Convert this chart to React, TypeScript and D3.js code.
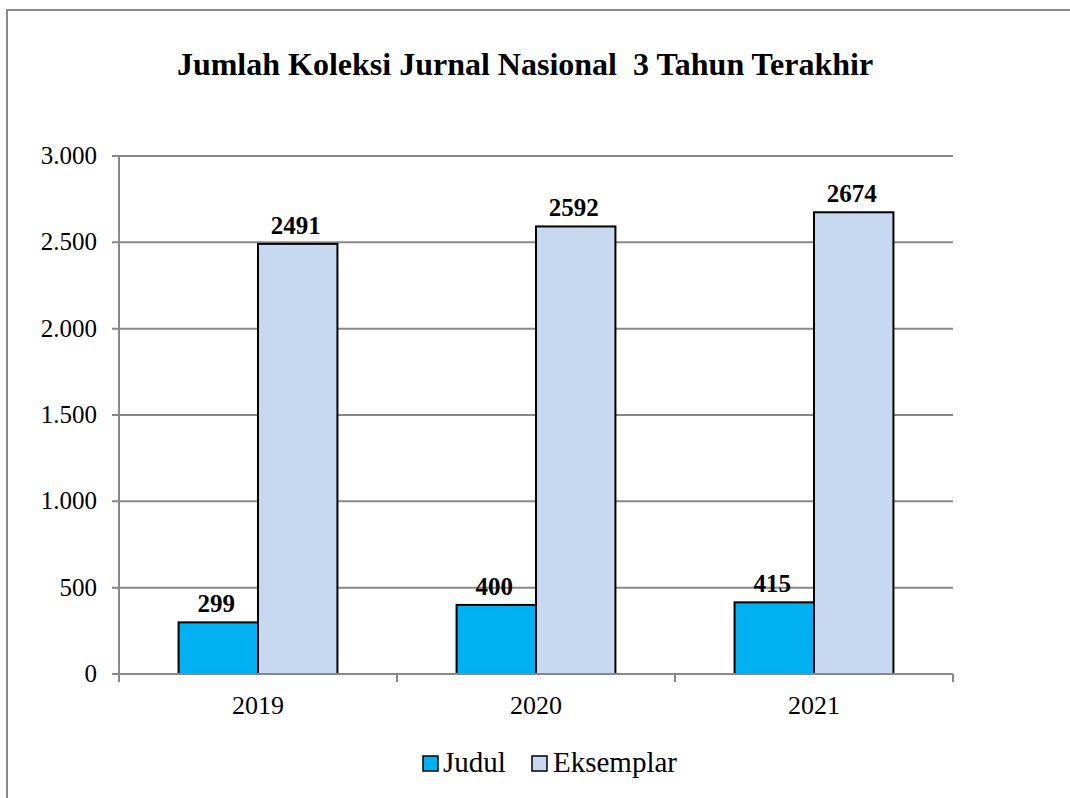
import React from "react";
import * as d3 from "d3";

const categories = ["2019", "2020", "2021"];
const seriesNames = ["Judul", "Eksemplar"];
const judul = [299, 400, 415];
const eksemplar = [2491, 2592, 2674];
const yTicks = [0, 500, 1000, 1500, 2000, 2500, 3000];
const title = "Jumlah Koleksi Jurnal Nasional  3 Tahun Terakhir";
const colors = ["#00B0F0", "#C6D9F1"];

export default function App() {
  const W = 1070, H = 798;
  const left = 119, right = 953, top = 156, bottom = 674;
  const x0 = d3.scaleBand().domain(categories).range([left, right]).paddingInner(0).paddingOuter(0);
  const x1 = d3.scaleBand().domain(seriesNames).range([0, x0.bandwidth()]).paddingInner(0).paddingOuter(0.75);
  const y = d3.scaleLinear().domain([0, 3000]).range([bottom, top]);
  const fmt = (v: number) => d3.format(",")(v).replace(/,/g, ".");
  const series = [judul, eksemplar];
  const font = "Liberation Serif, Times New Roman, serif";
  const grid = "#888888";

  return (
    <svg width={W} height={H} style={{ position: "absolute", left: 0, top: 0, background: "#fff", fontFamily: font }}>
      <rect x={7} y={10} width={1100} height={900} fill="#fff" stroke="#8a8a8a" strokeWidth={2} />
      <text x={525} y={75} textAnchor="middle" fontSize={32} fontWeight="bold" style={{ whiteSpace: "pre" }}>{title}</text>
      {yTicks.map((t) => (
        <g key={t}>
          <line x1={left - 7} x2={right} y1={y(t)} y2={y(t)} stroke={grid} strokeWidth={2} />
          <text x={left - 22} y={y(t) + 8} textAnchor="end" fontSize={25}>{fmt(t)}</text>
        </g>
      ))}
      <line x1={left} x2={left} y1={top} y2={bottom + 8} stroke={grid} strokeWidth={2} />
      {[...categories.map((c) => x0(c)!), right].map((xv, i) => (
        <line key={i} x1={xv} x2={xv} y1={bottom} y2={bottom + 8} stroke={grid} strokeWidth={2} />
      ))}
      {categories.map((c, ci) => (
        <g key={c}>
          {seriesNames.map((s, si) => {
            const v = series[si][ci];
            const bx = x0(c)! + x1(s)!;
            return (
              <g key={s}>
                <rect x={bx} y={y(v)} width={x1.bandwidth()} height={bottom - y(v)} fill={colors[si]} stroke="#000" strokeWidth={2} />
                <text x={bx + x1.bandwidth() / 2 - 2} y={y(v) - 10} textAnchor="middle" fontSize={25} fontWeight="bold">{v}</text>
              </g>
            );
          })}
          <text x={x0(c)! + x0.bandwidth() / 2} y={714} textAnchor="middle" fontSize={26}>{c}</text>
        </g>
      ))}
      <line x1={left} x2={right} y1={bottom} y2={bottom} stroke={grid} strokeWidth={2} />
      <g>
        <rect x={423} y={756} width={15} height={15} fill={colors[0]} stroke="#000" strokeWidth={1.5} />
        <text x={443} y={772} fontSize={29}>{seriesNames[0]}</text>
        <rect x={532} y={756} width={15} height={15} fill={colors[1]} stroke="#000" strokeWidth={1.5} />
        <text x={553} y={772} fontSize={29}>{seriesNames[1]}</text>
      </g>
    </svg>
  );
}
